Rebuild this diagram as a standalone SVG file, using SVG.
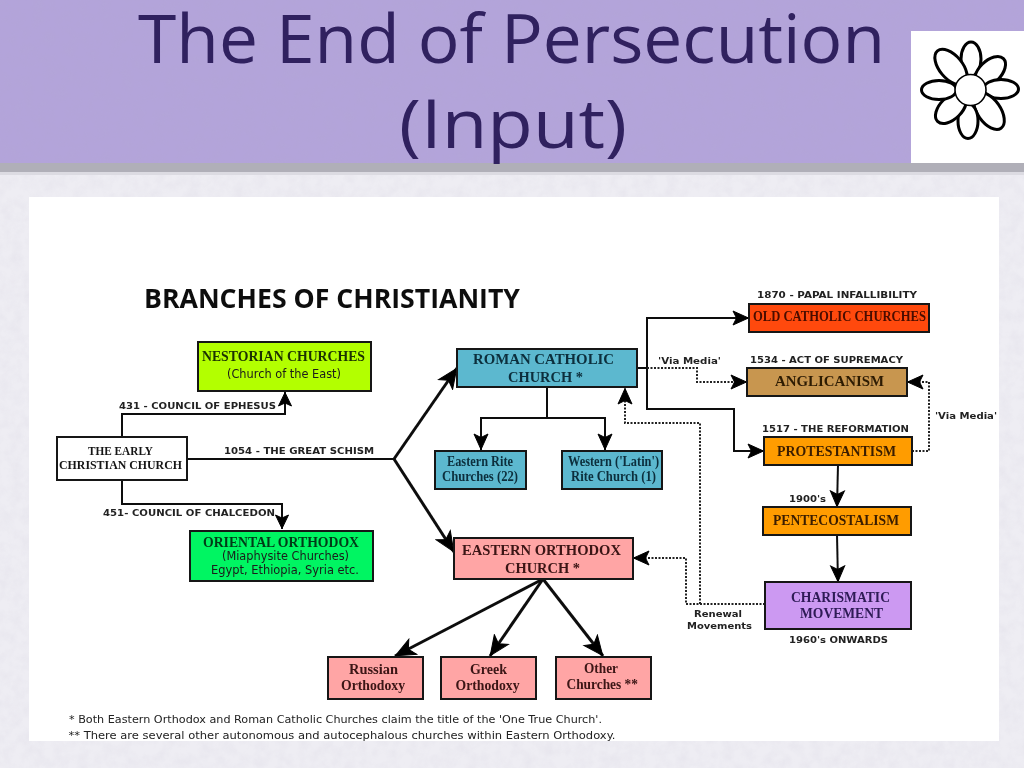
<svg xmlns="http://www.w3.org/2000/svg" width="1024" height="768" viewBox="0 0 1024 768">
<style>
.box{stroke:#161616;stroke-width:2}
.s{font-family:"Liberation Serif","Times New Roman",serif;font-weight:700;fill:#141414}
.c{font-size:15px}
.m{font-size:14px}
.l{font-family:"DejaVu Sans",sans-serif;font-weight:700;font-size:9.5px;fill:#222}
.n{font-family:"DejaVu Sans",sans-serif;font-size:11.5px;fill:#1a1a1a}
.f{font-family:"DejaVu Sans",sans-serif;font-size:10.5px;fill:#222}
.w{fill:none;stroke:#111;stroke-width:3}
.t{fill:none;stroke:#111;stroke-width:2}
.d{fill:none;stroke:#222;stroke-width:2;stroke-dasharray:2 1.5}
.h{font-family:"Open Sans","Noto Sans",sans-serif;font-size:68px;fill:#30215f}
.p{fill:#fff;stroke:#000;stroke-width:3}
</style>
<defs>
<marker id="a" markerUnits="userSpaceOnUse" markerWidth="17" markerHeight="17" refX="15" refY="8.5" orient="auto" viewBox="0 0 17 17"><path d="M14.500,8.500 L1,2 L4,8.500 L1,15 Z" fill="#000" stroke="#000"/></marker>
<marker id="b" markerUnits="userSpaceOnUse" markerWidth="19" markerHeight="19" refX="17" refY="9.5" orient="auto" viewBox="0 0 19 19"><path d="M16.500,9.500 L1,2.500 L4.500,9.500 L1,16.500 Z" fill="#000" stroke="#000"/></marker>
<marker id="c" markerUnits="userSpaceOnUse" markerWidth="24" markerHeight="24" refX="21" refY="12" orient="auto" viewBox="0 0 24 24"><path d="M20.500,12 L1,3.500 L6,12 L1,20.500 Z" fill="#000" stroke="#000"/></marker>
<filter id="paper" x="0" y="0" width="100%" height="100%"><feTurbulence type="fractalNoise" baseFrequency="0.09" numOctaves="3" seed="4"/><feColorMatrix values="0 0 0 0 0.45  0 0 0 0 0.42  0 0 0 0 0.55  0.5 0 0 0 -0.17"/></filter>
<filter id="soft" filterUnits="userSpaceOnUse" x="0" y="0" width="1024" height="768"><feGaussianBlur stdDeviation="0.35"/></filter>
</defs>

<g id="background">
<rect width="1024" height="768" fill="#eeedf3"/>
<rect width="1024" height="768" filter="url(#paper)" opacity="0.35"/>
<rect y="172" width="1024" height="3" fill="#dcdbe2"/>
<rect y="163" width="1024" height="9" fill="#b0afb8"/>
<rect width="1024" height="163" fill="#b3a4da"/>
<rect width="1024" height="163" filter="url(#paper)" opacity="0.3"/>
<rect x="29" y="197" width="970" height="544" fill="#fff"/>
</g>

<g id="title">
<text class="h" x="138" y="63" textLength="747" lengthAdjust="spacingAndGlyphs">The End of Persecution</text>
<text class="h" x="399" y="148" textLength="228" lengthAdjust="spacingAndGlyphs">(Input)</text>
</g>

<g id="flower">
<rect x="911" y="31" width="113" height="132" fill="#fff"/>
<ellipse class="p" cx="971" cy="59" rx="10" ry="17"/>
<ellipse class="p" cx="951" cy="67" rx="11.5" ry="21" transform="rotate(-40 951 67)"/>
<ellipse class="p" cx="990" cy="72" rx="11" ry="19" transform="rotate(45 990 72)"/>
<ellipse class="p" cx="1001" cy="89" rx="17.5" ry="9.5"/>
<ellipse class="p" cx="989" cy="111" rx="11.5" ry="21" transform="rotate(-35 989 111)"/>
<ellipse class="p" cx="968" cy="121" rx="10" ry="17.5"/>
<ellipse class="p" cx="951" cy="108" rx="11" ry="19" transform="rotate(45 951 108)"/>
<ellipse class="p" cx="939" cy="90" rx="17.5" ry="9.5"/>
<circle cx="970.5" cy="90" r="15.5" fill="#fff" stroke="#000" stroke-width="1.6"/>
</g>

<g id="diagram" filter="url(#soft)">
<text id="heading" x="144" y="308" font-family="'Open Sans','Noto Sans',sans-serif" font-weight="700" font-size="27px" fill="#111" textLength="376" lengthAdjust="spacingAndGlyphs">BRANCHES OF CHRISTIANITY</text>

<g id="connectors">
<path class="t" d="M122,437 V414 H285 V392" marker-end="url(#a)"/>
<path class="t" d="M122,480 V504 H282 V529" marker-end="url(#a)"/>
<path class="t" d="M187,459 H394"/>
<path class="w" d="M394,459 L457,368" marker-end="url(#c)"/>
<path class="w" d="M394,459 L454,552" marker-end="url(#c)"/>
<path class="t" d="M547,387 V418 H481 V450" marker-end="url(#b)"/>
<path class="t" d="M547,418 H605 V450" marker-end="url(#b)"/>
<path class="t" d="M637,368 H647 V318 H749" marker-end="url(#b)"/>
<path class="t" d="M647,368 V409 H734 V451 H764" marker-end="url(#b)"/>
<path class="d" d="M647,368 H697 V382 H747" marker-end="url(#b)"/>
<path class="d" d="M912,451 H929 V382 H907" marker-end="url(#b)"/>
<path class="d" d="M765,604 H686 V558 H633" marker-end="url(#b)"/>
<path class="d" d="M700,604 V423 H625 V388" marker-end="url(#b)"/>
<path class="t" d="M838,465 L837,507" marker-end="url(#b)"/>
<path class="t" d="M837,535 L838,582" marker-end="url(#b)"/>
<path class="w" d="M543,579 L395,656" marker-end="url(#c)"/>
<path class="w" d="M543,579 L490,656" marker-end="url(#c)"/>
<path class="w" d="M543,579 L603,656" marker-end="url(#c)"/>
</g>

<g id="connector-labels">
<text class="l" x="119" y="409" textLength="157" lengthAdjust="spacingAndGlyphs">431 - COUNCIL OF EPHESUS</text>
<text class="l" x="224" y="454" textLength="150" lengthAdjust="spacingAndGlyphs">1054 - THE GREAT SCHISM</text>
<text class="l" x="103" y="516" textLength="172" lengthAdjust="spacingAndGlyphs">451- COUNCIL OF CHALCEDON</text>
<text class="l" x="757" y="298" textLength="160" lengthAdjust="spacingAndGlyphs">1870 - PAPAL INFALLIBILITY</text>
<text class="l" x="750" y="363" textLength="153" lengthAdjust="spacingAndGlyphs">1534 - ACT OF SUPREMACY</text>
<text class="l" x="762" y="432" textLength="147" lengthAdjust="spacingAndGlyphs">1517 - THE REFORMATION</text>
<text class="l" x="658" y="364" textLength="63" lengthAdjust="spacingAndGlyphs">'Via Media'</text>
<text class="l" x="935" y="419" textLength="62" lengthAdjust="spacingAndGlyphs">'Via Media'</text>
<text class="l" x="789" y="502" textLength="37" lengthAdjust="spacingAndGlyphs">1900's</text>
<text class="l" x="789" y="643" textLength="99" lengthAdjust="spacingAndGlyphs">1960's ONWARDS</text>
<text class="l" x="694" y="617" textLength="48" lengthAdjust="spacingAndGlyphs">Renewal</text>
<text class="l" x="687" y="629" textLength="65" lengthAdjust="spacingAndGlyphs">Movements</text>
</g>

<g id="early"><rect class="box" x="57" y="437" width="130" height="43" fill="#fff"/>
<text class="s" x="88" y="455" font-size="13" textLength="65" lengthAdjust="spacingAndGlyphs">THE EARLY</text>
<text class="s" x="59" y="469" font-size="13" textLength="123" lengthAdjust="spacingAndGlyphs">CHRISTIAN CHURCH</text></g>

<g id="nestorian"><rect class="box" x="198" y="342" width="173" height="49" fill="#b3ff00"/>
<text class="s c" style="fill:#1a3000" x="202" y="361" textLength="163" lengthAdjust="spacingAndGlyphs">NESTORIAN CHURCHES</text>
<text class="n" x="227" y="378" textLength="114" lengthAdjust="spacingAndGlyphs">(Church of the East)</text></g>

<g id="oriental"><rect class="box" x="190" y="531" width="183" height="50" fill="#00f562"/>
<text class="s c" style="fill:#003a18" x="203" y="547" textLength="156" lengthAdjust="spacingAndGlyphs">ORIENTAL ORTHODOX</text>
<text class="n" x="222" y="560" textLength="127" lengthAdjust="spacingAndGlyphs">(Miaphysite Churches)</text>
<text class="n" x="211" y="574" textLength="148" lengthAdjust="spacingAndGlyphs">Egypt, Ethiopia, Syria etc.</text></g>

<g id="roman"><rect class="box" x="457" y="349" width="180" height="38" fill="#5bb8cf"/>
<text class="s c" style="fill:#0c2f3c" x="473" y="364" textLength="141" lengthAdjust="spacingAndGlyphs">ROMAN CATHOLIC</text>
<text class="s c" style="fill:#0c2f3c" x="508" y="382" textLength="75" lengthAdjust="spacingAndGlyphs">CHURCH *</text></g>

<g id="eastern-rite"><rect class="box" x="435" y="451" width="91" height="38" fill="#5bb8cf"/>
<text class="s m" style="fill:#0c2f3c" x="447" y="466" textLength="66" lengthAdjust="spacingAndGlyphs">Eastern Rite</text>
<text class="s m" style="fill:#0c2f3c" x="442" y="481" textLength="76" lengthAdjust="spacingAndGlyphs">Churches (22)</text></g>

<g id="western-rite"><rect class="box" x="562" y="451" width="100" height="38" fill="#5bb8cf"/>
<text class="s m" style="fill:#0c2f3c" x="568" y="466" textLength="91" lengthAdjust="spacingAndGlyphs">Western ('Latin')</text>
<text class="s m" style="fill:#0c2f3c" x="571" y="481" textLength="85" lengthAdjust="spacingAndGlyphs">Rite Church (1)</text></g>

<g id="eastern-orthodox"><rect class="box" x="454" y="538" width="179" height="41" fill="#ffa5a5"/>
<text class="s c" style="fill:#3a1414" x="462" y="555" textLength="159" lengthAdjust="spacingAndGlyphs">EASTERN ORTHODOX</text>
<text class="s c" style="fill:#3a1414" x="505" y="573" textLength="75" lengthAdjust="spacingAndGlyphs">CHURCH *</text></g>

<g id="old-catholic"><rect class="box" x="749" y="304" width="180" height="28" fill="#ff4a0a"/>
<text class="s c" style="fill:#4a0c00" x="753" y="321" textLength="173" lengthAdjust="spacingAndGlyphs">OLD CATHOLIC CHURCHES</text></g>

<g id="anglicanism"><rect class="box" x="747" y="368" width="160" height="28" fill="#c8964f"/>
<text class="s c" style="fill:#2e1c06" x="775" y="386" textLength="109" lengthAdjust="spacingAndGlyphs">ANGLICANISM</text></g>

<g id="protestantism"><rect class="box" x="764" y="437" width="148" height="28" fill="#ff9c00"/>
<text class="s c" style="fill:#3a1e00" x="777" y="456" textLength="119" lengthAdjust="spacingAndGlyphs">PROTESTANTISM</text></g>

<g id="pentecostalism"><rect class="box" x="763" y="507" width="148" height="28" fill="#ff9c00"/>
<text class="s c" style="fill:#3a1e00" x="773" y="525" textLength="126" lengthAdjust="spacingAndGlyphs">PENTECOSTALISM</text></g>

<g id="charismatic"><rect class="box" x="765" y="582" width="146" height="47" fill="#cc99f2"/>
<text class="s c" style="fill:#2d1a55" x="791" y="602" textLength="99" lengthAdjust="spacingAndGlyphs">CHARISMATIC</text>
<text class="s c" style="fill:#2d1a55" x="800" y="618" textLength="83" lengthAdjust="spacingAndGlyphs">MOVEMENT</text></g>

<g id="russian"><rect class="box" x="328" y="657" width="95" height="42" fill="#ffa5a5"/>
<text class="s m" style="fill:#3a1414" x="349" y="674" textLength="49" lengthAdjust="spacingAndGlyphs">Russian</text>
<text class="s m" style="fill:#3a1414" x="341" y="690" textLength="64" lengthAdjust="spacingAndGlyphs">Orthodoxy</text></g>

<g id="greek"><rect class="box" x="441" y="657" width="95" height="42" fill="#ffa5a5"/>
<text class="s m" style="fill:#3a1414" x="470" y="674" textLength="37" lengthAdjust="spacingAndGlyphs">Greek</text>
<text class="s m" style="fill:#3a1414" x="455.500" y="690" textLength="64" lengthAdjust="spacingAndGlyphs">Orthodoxy</text></g>

<g id="other"><rect class="box" x="556" y="657" width="95" height="42" fill="#ffa5a5"/>
<text class="s m" style="fill:#3a1414" x="584" y="673" textLength="34" lengthAdjust="spacingAndGlyphs">Other</text>
<text class="s m" style="fill:#3a1414" x="566.500" y="689" textLength="71.500" lengthAdjust="spacingAndGlyphs">Churches **</text></g>

<g id="footnotes">
<text class="f" x="69" y="723" textLength="533" lengthAdjust="spacingAndGlyphs">* Both Eastern Orthodox and Roman Catholic Churches claim the title of the 'One True Church'.</text>
<text class="f" x="68.500" y="739" textLength="547" lengthAdjust="spacingAndGlyphs">** There are several other autonomous and autocephalous churches within Eastern Orthodoxy.</text>
</g>
</g>
</svg>
